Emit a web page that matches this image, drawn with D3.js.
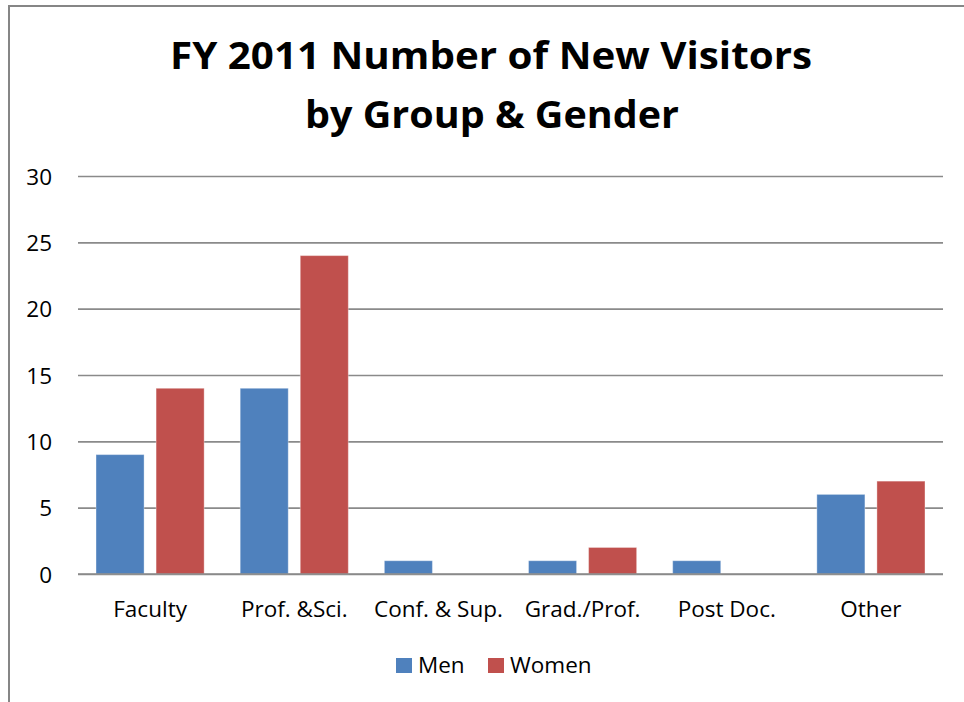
<!DOCTYPE html>
<html>
<head>
<meta charset="utf-8">
<script src="https://cdn.jsdelivr.net/npm/d3@7"></script>
<style>
    body { margin: 0; background: #fff; }
    text { font-family: "Open Sans", "Liberation Sans", sans-serif; fill: #000; }
</style>
</head>
<body>
<svg id="chart"></svg>
<script>

// data
var groups = ["Faculty", "Prof. &Sci.", "Conf. & Sup.", "Grad./Prof.", "Post Doc.", "Other"]
var series = ["Men", "Women"]
var men = [9, 14, 1, 1, 1, 6]
var women = [14, 24, 0, 2, 0, 7]
var yTicks = [0, 5, 10, 15, 20, 25, 30]
var colours = ["#4F81BD", "#C0504D"]
var titleLines = ["FY 2011 Number of New Visitors", "by Group & Gender"]

var width = 964
var height = 702

var svg = d3.select("#chart")
    .attr("width", width)
    .attr("height", height)

// chart area frame (runs off the right and bottom edges)
svg.append("rect")
    .attr("x", 9)
    .attr("y", 6)
    .attr("width", 1000)
    .attr("height", 1000)
    .attr("fill", "#fff")
    .attr("stroke", "#868686")
    .attr("stroke-width", 2)

var plot = { left: 78, right: 943, top: 176, bottom: 574 }

var x0 = d3.scaleBand()
    .domain(groups)
    .range([plot.left, plot.right])

var x1 = d3.scaleBand()
    .domain(series)
    .range([x0.bandwidth() * 0.125, x0.bandwidth() * 0.875])
    .paddingInner(0.2)

var y = d3.scaleLinear()
    .domain([0, 30])
    .range([plot.bottom, plot.top])

// title
svg.append("g")
    .selectAll("text")
    .data(titleLines)
    .enter()
    .append("text")
    .attr("x", (d, i) => i === 0 ? 491 : 492)
    .attr("y", (d, i) => 69 + i * 59)
    .attr("text-anchor", "middle")
    .attr("font-size", "38px")
    .attr("font-weight", "bold")
    .attr("textLength", (d, i) => i === 0 ? 642 : 374)
    .attr("lengthAdjust", "spacingAndGlyphs")
    .text(d => d)

// gridlines + y labels
var yAxis = d3.axisLeft(y)
    .tickValues(yTicks)
    .tickSize(-(plot.right - plot.left))
    .tickPadding(26)

var gy = svg.append("g")
    .attr("transform", `translate(${plot.left},0)`)
    .call(yAxis)

gy.select(".domain").remove()

gy.selectAll(".tick line")
    .attr("stroke", "#8a8a8a")
    .attr("stroke-width", 1.6)

gy.selectAll(".tick text")
    .attr("font-family", "Open Sans")
    .attr("font-size", "22.5px")
    .attr("fill", "#000")
    .attr("dy", "0.36em")

// bars
var rows = groups.map((g, i) => ({ group: g, values: [men[i], women[i]] }))

var cat = svg.append("g")
    .selectAll("g")
    .data(rows)
    .enter()
    .append("g")
    .attr("transform", d => `translate(${x0(d.group)},0)`)

cat.selectAll("rect")
    .data(d => d.values.map((v, k) => ({ key: series[k], value: v, colour: colours[k] })))
    .enter()
    .append("rect")
    .filter(d => d.value > 0)
    .attr("x", d => x1(d.key))
    .attr("y", d => y(d.value))
    .attr("width", x1.bandwidth())
    .attr("height", d => y(0) - y(d.value))
    .attr("fill", d => d.colour)
    .attr("stroke", "#fff")
    .attr("stroke-opacity", 0.35)
    .attr("stroke-width", 1)

// redraw baseline on top of bars
svg.append("line")
    .attr("x1", plot.left)
    .attr("x2", plot.right)
    .attr("y1", y(0))
    .attr("y2", y(0))
    .attr("stroke", "#8a8a8a")
    .attr("stroke-width", 1.6)

// category labels
var xAxis = d3.axisBottom(x0).tickSize(0).tickPadding(0)

var gx = svg.append("g")
    .attr("transform", `translate(0,${plot.bottom})`)
    .call(xAxis)

gx.select(".domain").remove()

gx.selectAll(".tick text")
    .attr("font-family", "Open Sans")
    .attr("font-size", "22.5px")
    .attr("fill", "#000")
    .attr("y", 43)
    .attr("dy", 0)

// legend
var legendX = [396, 488]

var legend = svg.append("g")
    .selectAll("g")
    .data(series)
    .enter()
    .append("g")
    .attr("transform", (d, i) => `translate(${legendX[i]},658)`)

legend.append("rect")
    .attr("width", 16)
    .attr("height", 15)
    .attr("fill", (d, i) => colours[i])

legend.append("text")
    .attr("x", 22)
    .attr("y", 15)
    .attr("font-size", "22.5px")
    .text(d => d)

</script>
</body>
</html>
